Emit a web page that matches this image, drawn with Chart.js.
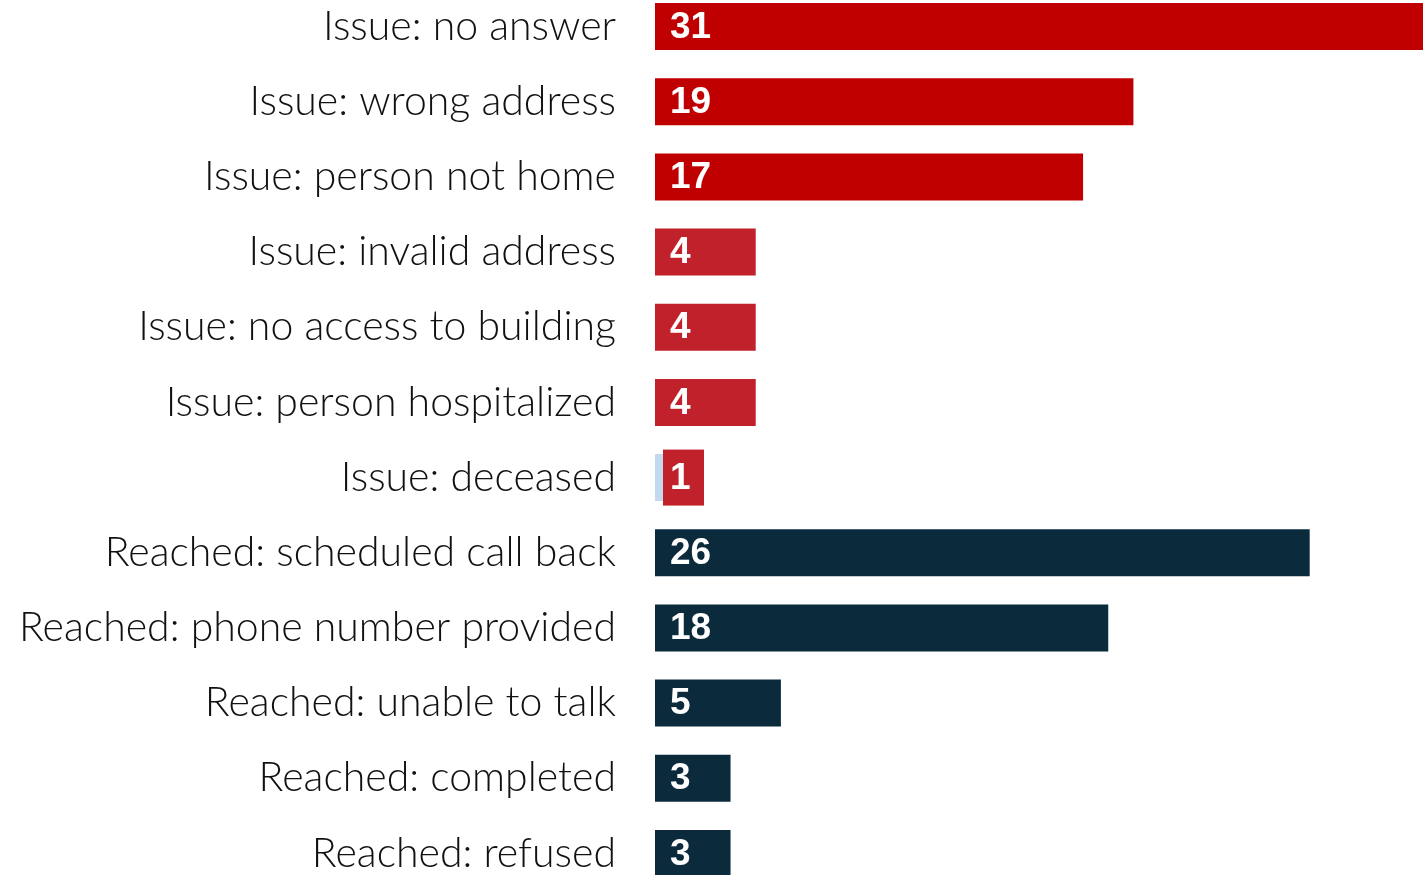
<!DOCTYPE html>
<html>
<head>
<meta charset="utf-8">
<script src="https://cdn.jsdelivr.net/npm/chart.js@4.4.1/dist/chart.umd.min.js"></script>
<style>
    html, body { margin: 0; padding: 0; background: #ffffff; overflow: hidden; }
    body { width: 1423px; height: 875px; position: relative; }
    #outcomeChart { position: absolute; left: 0; top: -11px; }
</style>
</head>
<body>
<canvas id="outcomeChart" width="1423" height="902"></canvas>
<script>
// Call outcomes (counts)
const categories = [
    'Issue: no answer',
    'Issue: wrong address',
    'Issue: person not home',
    'Issue: invalid address',
    'Issue: no access to building',
    'Issue: person hospitalized',
    'Issue: deceased',
    'Reached: scheduled call back',
    'Reached: phone number provided',
    'Reached: unable to talk',
    'Reached: completed',
    'Reached: refused'
];
const counts = [31, 19, 17, 4, 4, 4, 1, 26, 18, 5, 3, 3];

// styling
const barColors = [
    '#c00000', '#c00000', '#c00000',
    '#c0212a', '#c0212a', '#c0212a', '#c5d9ee',
    '#0b2a3c', '#0b2a3c', '#0b2a3c', '#0b2a3c', '#0b2a3c'
];
const labelBoxColors = [null, null, null, null, null, null, '#c0212a', null, null, null, null, null];

// draws the white numbers inside the bars
const valueLabels = {
    id: 'valueLabels',
    afterDatasetsDraw(chart) {
        const ctx = chart.ctx;
        const meta = chart.getDatasetMeta(0);
        ctx.save();
        ctx.font = 'bold 37px "Liberation Sans", Arial, sans-serif';
        ctx.textBaseline = 'middle';
        ctx.textAlign = 'left';
        meta.data.forEach((bar, i) => {
            if (labelBoxColors[i]) {
                ctx.fillStyle = labelBoxColors[i];
                ctx.fillRect(bar.base + 8, bar.y - 28, 41, 56);
            }
            ctx.fillStyle = '#ffffff';
            ctx.fillText(String(counts[i]), bar.base + 15, bar.y + 1);
        });
        ctx.restore();
    }
};

var ctx = document.getElementById('outcomeChart').getContext('2d');
new Chart(ctx, {
    type: 'bar',
    data: {
        labels: categories,
        datasets: [{
            data: counts,
            backgroundColor: barColors,
            borderWidth: 0,
            categoryPercentage: 1,
            barPercentage: 0.625
        }]
    },
    options: {
        indexAxis: 'y',
        responsive: false,
        animation: false,
        layout: { padding: 0 },
        scales: {
            x: {
                display: false,
                min: 0,
                max: 30.5
            },
            y: {
                grid: { display: false, drawTicks: false },
                border: { display: false },
                ticks: {
                    color: '#111111',
                    padding: 39,
                    font: { family: 'Lato, "Noto Sans", sans-serif', size: 41, weight: '300' }
                },
                afterFit: function (scale) {
                    scale.width = 655;
                    // no extra room above/below the categories
                    scale.paddingTop = 0;
                    scale.paddingBottom = 0;
                }
            }
        },
        plugins: {
            legend: { display: false },
            tooltip: { enabled: false }
        }
    },
    plugins: [valueLabels]
});
</script>
</body>
</html>
